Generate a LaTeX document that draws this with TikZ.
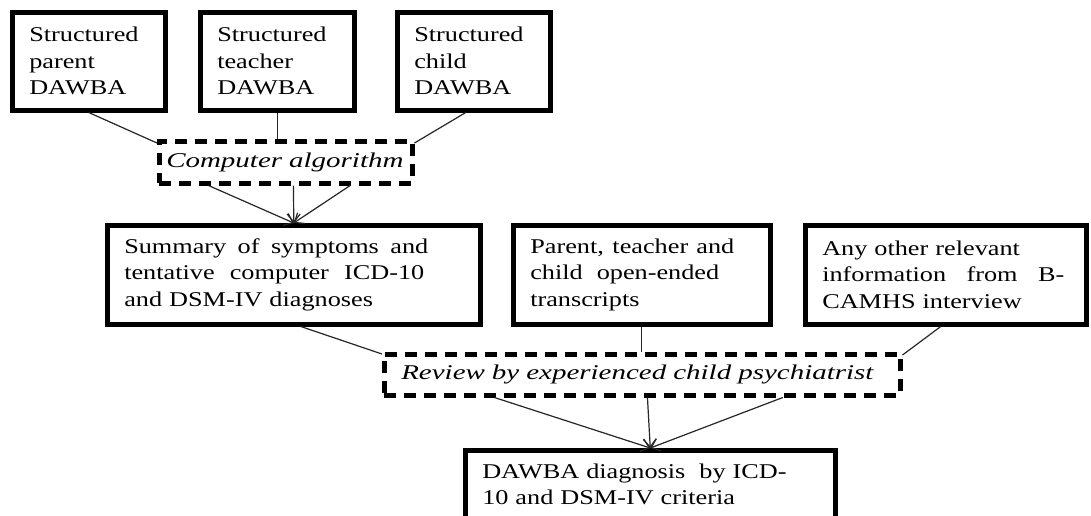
\documentclass[tikz,border=0pt]{standalone}
\usepackage{fontspec}
\setmainfont{Liberation Serif}[FakeStretch=1.25, ItalicFeatures={FakeStretch=1.38}]
\usetikzlibrary{arrows.meta,calc}
% stretch the inter-word spaces of one line to a given width
\newcommand{\spreadline}[2]{\makebox[#1][s]{\spaceskip=0.3em plus 1fil\relax #2}}
\begin{document}
\begin{tikzpicture}[x=1pt,y=-1pt,
  txt/.style={font=\fontsize{21}{26.5}\selectfont},
  box/.style={txt, draw, line width=4.5pt, anchor=north west, align=left,
    inner xsep=17pt, inner ysep=0pt},
  dashbox/.style={txt, draw, line width=4.5pt, anchor=north west, align=left,
    inner xsep=7pt, inner ysep=0pt, dash pattern=on 12pt off 8pt,
    font=\fontsize{21}{26.5}\selectfont\itshape},
  conn/.style={line width=1.2pt, black!85},
  arr/.style={conn, -{Straight Barb[length=8pt,width=13pt]}}]
\clip (0,0) rectangle (1091,515);
\fill[white] (0,0) rectangle (1091,515);

% sources
\node[box, minimum width=153, minimum height=98, text width=119] (b1) at (10,10)
  {Structured\\parent\\DAWBA};
\node[box, minimum width=154, minimum height=98, text width=120] (b2) at (198,10)
  {Structured\\teacher\\DAWBA};
\node[box, minimum width=153, minimum height=98, text width=119] (b3) at (395,10)
  {Structured\\child\\DAWBA};

\node[dashbox, minimum width=253, minimum height=42, text width=239] (alg) at (157,139)
  {Computer algorithm};

% intermediate material
\node[box, minimum width=373, minimum height=99, text width=339] (b4) at (105,223)
  {\spreadline{304pt}{Summary of symptoms and}\\
   \spreadline{300pt}{tentative computer ICD-10}\\
   and DSM-IV diagnoses};
\node[box, minimum width=257, minimum height=99, text width=223] (b5) at (511,223)
  {\spreadline{204pt}{Parent, teacher and}\\
   child \ open-ended\\
   transcripts};
\node[box, minimum width=281, minimum height=99, text width=247] (b6) at (803,223)
  {Any other relevant\\
   \spreadline{242pt}{information from B-}\\
   CAMHS interview};

\node[dashbox, minimum width=516, minimum height=41, text width=482, inner xsep=17pt] (rev) at (382,352)
  {Review by experienced child psychiatrist};

% outcome
\node[box, minimum width=370, minimum height=68, text width=336] (b7) at (463,448)
  {DAWBA diagnosis \ by ICD-\\
   10 and DSM-IV criteria};

% connectors
\draw[conn] (b1.south) -- ([yshift=-4pt]alg.north west);
\draw[conn] (b2.south) -- (b2.south |- alg.north);
\draw[conn] ([xshift=-8pt]b3.south) -- ([yshift=-4pt]alg.north east);

\draw[arr] ($(alg.south west)!0.2!(alg.south east)$) -- (b4.north);
\draw[arr] ($(alg.south west)!0.53!(alg.south east)$) -- (b4.north);
\draw[arr] ($(alg.south west)!0.75!(alg.south east)$) -- (b4.north);

\draw[conn] ([xshift=7pt]b4.south) -- ([yshift=-2pt]rev.north west);
\draw[conn] (b5.south) -- (b5.south |- rev.north);
\draw[conn] ([xshift=-5pt]b6.south) -- ([yshift=-3pt]rev.north east);

\draw[arr] ($(rev.south west)!0.216!(rev.south east)$) -- (b7.north);
\draw[arr] ($(rev.south west)!0.51!(rev.south east)$) -- (b7.north);
\draw[arr] ($(rev.south west)!0.77!(rev.south east)$) -- (b7.north);
\end{tikzpicture}
\end{document}
